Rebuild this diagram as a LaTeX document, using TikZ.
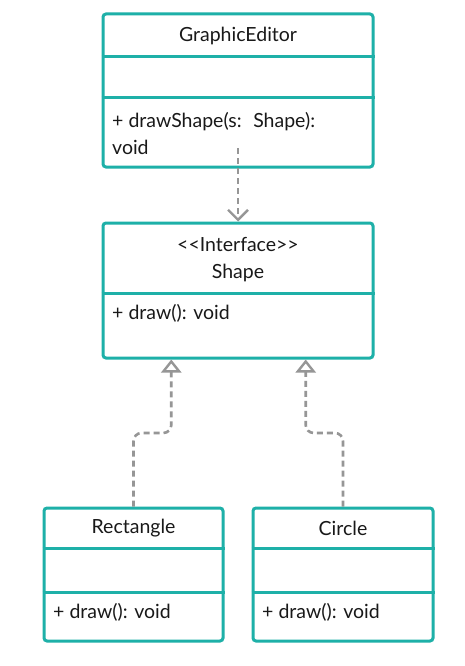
\documentclass[tikz,border=0pt]{standalone}
\usepackage{fontspec}
\setmainfont{Lato}
\usetikzlibrary{arrows.meta,calc}
\definecolor{umlteal}{RGB}{30,176,168}
\definecolor{conngray}{RGB}{150,150,150}
\begin{document}
\begin{tikzpicture}[x=1pt,y=-1pt,
  umlbox/.style={draw=umlteal, line width=3pt, rounded corners=3pt, fill=white, inner sep=0pt},
  divider/.style={draw=umlteal, line width=3pt},
  lbl/.style={inner sep=0pt, font=\fontsize{19.5}{27}\selectfont, text=black!90},
  conn/.style={draw=conngray, line width=2.6pt, dash pattern=on 6pt off 4pt},
  dep/.style={conn, -{Straight Barb[length=10pt,width=20pt,line width=2.4pt]}},
  inh/.style={conn, rounded corners=8pt, -{Triangle[open,length=13pt,width=20pt,line width=2.4pt,fill=white]}}]
\useasboundingbox[fill=white] (0,0) rectangle (464,666);

% boxes
\node[umlbox, minimum width=270pt, minimum height=153pt] (ge) at (238,90.5) {};
\node[umlbox, minimum width=270pt, minimum height=135pt] (shape) at (238,290.5) {};
\node[umlbox, minimum width=179pt, minimum height=133pt] (rect) at (133.5,574.5) {};
\node[umlbox, minimum width=180pt, minimum height=133pt] (circ) at (343,574.5) {};

% dividers
\draw[divider] (ge.west |- 0,57) -- (ge.east |- 0,57);
\draw[divider] (ge.west |- 0,98) -- (ge.east |- 0,98);
\draw[divider] (shape.west |- 0,293) -- (shape.east |- 0,293);
\draw[divider] (rect.west |- 0,548) -- (rect.east |- 0,548);
\draw[divider] (rect.west |- 0,592) -- (rect.east |- 0,592);
\draw[divider] (circ.west |- 0,548) -- (circ.east |- 0,548);
\draw[divider] (circ.west |- 0,592) -- (circ.east |- 0,592);

% texts
\node[lbl] (geName) at (238,36) {GraphicEditor};
\node[lbl, anchor=west, align=left] (geOp) at (112,133.5) {+ drawShape(s:~ Shape):\\void};
\node[lbl, align=center] (shName) at (238,259.5) {<\kern0pt<Interface>\kern0pt>\\Shape};
\node[lbl, anchor=west] (shOp) at (112,313) {+ draw(): void};
\node[lbl] (rName) at (133.5,528) {Rectangle};
\node[lbl, anchor=west] (rOp) at (53,612) {+ draw(): void};
\node[lbl] (cName) at (343,528) {Circle};
\node[lbl, anchor=west] (cOp) at (262,612) {+ draw(): void};

% connectors
\coordinate (depstart) at (238,148);
\draw[dep] (depstart) -- (shape.north);
\coordinate (t1) at ($(shape.south west)!0.2556!(shape.south east)$);
\coordinate (t2) at ($(shape.south west)!0.748!(shape.south east)$);
\draw[inh] (rect.north) -- (rect.north |- 0,433) -| (t1);
\draw[inh] (circ.north) -- (circ.north |- 0,433) -| (t2);
\end{tikzpicture}
\end{document}
